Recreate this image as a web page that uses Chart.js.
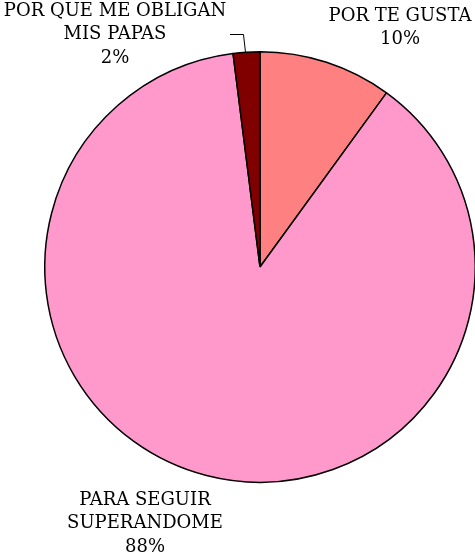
<!DOCTYPE html>
<html>
<head>
<meta charset="utf-8">
<script src="https://cdn.jsdelivr.net/npm/chart.js@4/dist/chart.umd.min.js"></script>
<style>
  html, body { margin: 0; padding: 0; background: #fff; overflow: hidden; }
  #wrap { width: 475px; height: 557px; overflow: hidden; }
</style>
</head>
<body>
<div id="wrap"><canvas id="chart" width="520" height="557"></canvas></div>
<script>
// categories and values
const categories = ['POR TE GUSTA', 'PARA SEGUIR SUPERANDOME', 'POR QUE ME OBLIGAN MIS PAPAS'];
const labelLines = [['POR TE GUSTA'], ['PARA SEGUIR', 'SUPERANDOME'], ['POR QUE ME OBLIGAN', 'MIS PAPAS']];
const percentages = [10, 88, 2];
const sliceColors = ['#FF8080', '#FF99CC', '#800000'];

// centre of first text line for each slice label
const labelPos = [
  { x: 400, y: 16 },
  { x: 145, y: 500 },
  { x: 115, y: 11 }
];

const labelPlugin = {
  id: 'pieLabels',
  afterDraw(chart) {
    const ctx = chart.ctx;
    const meta = chart.getDatasetMeta(0);
    ctx.save();
    ctx.font = '18px "DejaVu Serif", serif';
    ctx.fillStyle = '#000';
    ctx.textAlign = 'center';
    ctx.textBaseline = 'middle';
    const lh = 23.5;
    labelLines.forEach((lines, i) => {
      const p = labelPos[i];
      const all = lines.concat([percentages[i] + '%']);
      all.forEach((t, j) => ctx.fillText(t, p.x, p.y + j * lh));
    });
    // leader line for the small slice
    const arc = meta.data[2];
    const mid = (arc.startAngle + arc.endAngle) / 2;
    const ex = arc.x + arc.outerRadius * Math.cos(mid);
    const ey = arc.y + arc.outerRadius * Math.sin(mid);
    ctx.strokeStyle = '#000';
    ctx.lineWidth = 1;
    ctx.beginPath();
    ctx.moveTo(230, 34.5);
    ctx.lineTo(243.5, 34.5);
    ctx.lineTo(ex - 1, ey);
    ctx.stroke();
    ctx.restore();
  }
};

new Chart(document.getElementById('chart').getContext('2d'), {
  type: 'pie',
  data: {
    labels: categories,
    datasets: [{
      data: percentages,
      backgroundColor: sliceColors,
      borderColor: '#000',
      borderWidth: 1.5
    }]
  },
  options: {
    responsive: false,
    animation: false,
    devicePixelRatio: 1,
    layout: { padding: { left: 44, right: 44, top: 51, bottom: 74 } },
    plugins: {
      legend: { display: false },
      tooltip: { enabled: false }
    }
  },
  plugins: [labelPlugin]
});
</script>
</body>
</html>
